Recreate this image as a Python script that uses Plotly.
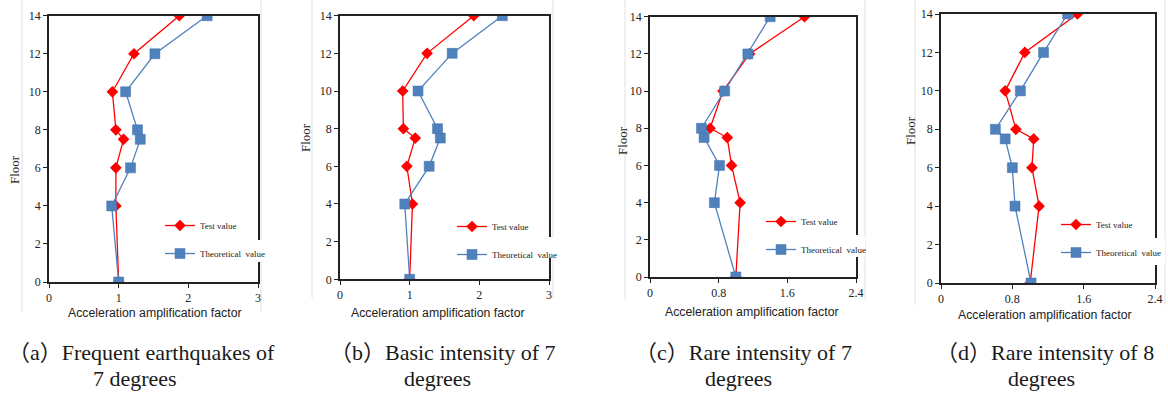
import plotly.graph_objects as go

W, H = 1168, 394

floors = [0, 4, 6, 7.5, 8, 10, 12, 14]

test_a = [1.00, 0.96, 0.96, 1.07, 0.96, 0.91, 1.22, 1.87]
theo_a = [1.00, 0.90, 1.17, 1.31, 1.27, 1.10, 1.52, 2.27]

test_b = [1.00, 1.04, 0.96, 1.08, 0.91, 0.90, 1.25, 1.92]
theo_b = [1.00, 0.93, 1.28, 1.44, 1.40, 1.12, 1.61, 2.33]

test_c = [1.00, 1.05, 0.95, 0.90, 0.70, 0.85, 1.16, 1.80]
theo_c = [1.00, 0.75, 0.81, 0.63, 0.60, 0.87, 1.14, 1.40]

test_d = [1.00, 1.10, 1.02, 1.04, 0.84, 0.72, 0.94, 1.53]
theo_d = [1.01, 0.83, 0.80, 0.72, 0.61, 0.89, 1.15, 1.42]

x_ranges = [[0, 3], [0, 3], [0, 2.4], [0, 2.4]]
x_ticks = [[0, 1, 2, 3], [0, 1, 2, 3], [0, 0.8, 1.6, 2.4], [0, 0.8, 1.6, 2.4]]
x_ticktext = [["0", "1", "2", "3"], ["0", "1", "2", "3"],
              ["0", "0.8", "1.6", "2.4"], ["0", "0.8", "1.6", "2.4"]]
y_ticks = [0, 2, 4, 6, 8, 10, 12, 14]

series_names = ["Test value", "Theoretical  value"]
captions_l1 = ["（a）Frequent earthquakes of", "（b）Basic intensity of 7",
               "（c）Rare intensity of 7", "（d）Rare intensity of 8"]
captions_l2 = ["7 degrees", "degrees", "degrees", "degrees"]
x_title = "Acceleration amplification factor"
y_title = "Floor"

# layout geometry in pixels (left, right, top, bottom) of each plot area
boxes = [(49, 258, 15.7, 282), (340, 549, 15.7, 279.3),
         (650, 856, 16.7, 277), (941, 1155, 14, 283)]
ytitle_pos = [(14, 170), (305, 138), (622, 141), (910, 130)]
xtitle_pos = [(155, 313), (438, 313), (752, 312), (1045, 315)]
cap1_pos = [(141, 352), (442, 352), (743, 352), (1045, 352)]
cap2_pos = [(135, 378), (437, 378), (738, 378), (1041, 378)]
legend_pos = [(160, 211), (452, 212), (761, 207), (1056, 210)]
cutouts = [(256, 268, 240, 262), (547, 560, 237, 258),
           (854, 865, 235, 257), (1153, 1165, 238, 265)]
frames = [(22, 261, 0, 312), (312, 553, 0, 298), (625, 865, 0, 300), (915, 1165, 0, 305)]

red = "#ff0000"
blue = "#4f81bd"

tests = [test_a, test_b, test_c, test_d]
theos = [theo_a, theo_b, theo_c, theo_d]

fig = go.Figure()
layout = dict(width=W, height=H, margin=dict(l=0, r=0, t=0, b=0, autoexpand=False),
              paper_bgcolor="white", plot_bgcolor="white", showlegend=True)
annotations = []
shapes = []

serif = "Liberation Serif"
sans = "Liberation Sans"
cap_font = "Liberation Serif, Noto Sans CJK SC"

for i in range(4):
    n = "" if i == 0 else str(i + 1)
    xa, ya = "x" + n, "y" + n
    lg = "legend" + n
    fig.add_trace(go.Scatter(
        x=tests[i], y=floors, mode="lines+markers", name=series_names[0],
        xaxis=xa, yaxis=ya, legend=lg, legendgroup="t" + n,
        line=dict(color=red, width=1.3),
        marker=dict(symbol="diamond", size=9, color=red)))
    fig.add_trace(go.Scatter(
        x=theos[i], y=floors, mode="lines+markers", name=series_names[1],
        xaxis=xa, yaxis=ya, legend=lg, legendgroup="b" + n,
        line=dict(color=blue, width=1.3),
        marker=dict(symbol="square", size=10, color=blue,
                    line=dict(color="#4272ad", width=0.5))))
    l, r, t, b = boxes[i]
    axcommon = dict(showline=True, linecolor="#222", linewidth=1.5, mirror=True,
                    showgrid=False, zeroline=False, ticks="outside", ticklen=4,
                    tickwidth=1, tickcolor="#222", automargin=False,
                    tickfont=dict(family=serif, size=12, color="#222"))
    layout["xaxis" + n] = dict(domain=[l / W, r / W], anchor=ya, range=x_ranges[i],
                               tickvals=x_ticks[i], ticktext=x_ticktext[i],
                               fixedrange=True, **axcommon)
    layout["yaxis" + n] = dict(domain=[1 - b / H, 1 - t / H], anchor=xa,
                               range=[0, 14], tickvals=y_ticks, **axcommon)
    lx, ly = legend_pos[i]
    layout[lg] = dict(x=lx / W, y=1 - ly / H, xanchor="left", yanchor="top",
                      bgcolor="rgba(0,0,0,0)", traceorder="grouped",
                      tracegroupgap=9, itemwidth=30,
                      font=dict(family=serif, size=9, color="#222"))
    # axis titles
    annotations.append(dict(text=y_title, x=ytitle_pos[i][0] / W, y=1 - ytitle_pos[i][1] / H,
                            xref="paper", yref="paper", showarrow=False, textangle=-90,
                            font=dict(family=serif, size=13, color="#222"),
                            xanchor="center", yanchor="middle"))
    annotations.append(dict(text=x_title, x=xtitle_pos[i][0] / W, y=1 - xtitle_pos[i][1] / H,
                            xref="paper", yref="paper", showarrow=False,
                            font=dict(family=sans, size=12.3, color="#222"),
                            xanchor="center", yanchor="middle"))
    annotations.append(dict(text=captions_l1[i], x=cap1_pos[i][0] / W, y=1 - cap1_pos[i][1] / H,
                            xref="paper", yref="paper", showarrow=False,
                            font=dict(family=cap_font, size=22, color="#1a1a1a"),
                            xanchor="center", yanchor="middle"))
    annotations.append(dict(text=captions_l2[i], x=cap2_pos[i][0] / W, y=1 - cap2_pos[i][1] / H,
                            xref="paper", yref="paper", showarrow=False,
                            font=dict(family=cap_font, size=22, color="#1a1a1a"),
                            xanchor="center", yanchor="middle"))
    # faint image frame lines
    fl, fr, ft, fb = frames[i]
    shapes.append(dict(type="line", xref="paper", yref="paper", x0=fl / W, x1=fl / W,
                       y0=1 - fb / H, y1=1 - ft / H, line=dict(color="#e0e0e0", width=1),
                       layer="below"))
    shapes.append(dict(type="line", xref="paper", yref="paper", x0=fr / W, x1=fr / W,
                       y0=1 - fb / H, y1=1 - ft / H, line=dict(color="#e0e0e0", width=1),
                       layer="below"))
    cl, cr, ct, cb = cutouts[i]
    shapes.append(dict(type="rect", xref="paper", yref="paper", x0=cl / W, x1=cr / W,
                       y0=1 - cb / H, y1=1 - ct / H, fillcolor="white",
                       line=dict(width=0), layer="above"))

layout["annotations"] = annotations
layout["shapes"] = shapes
fig.update_layout(**layout)
fig.write_html("out.html")
